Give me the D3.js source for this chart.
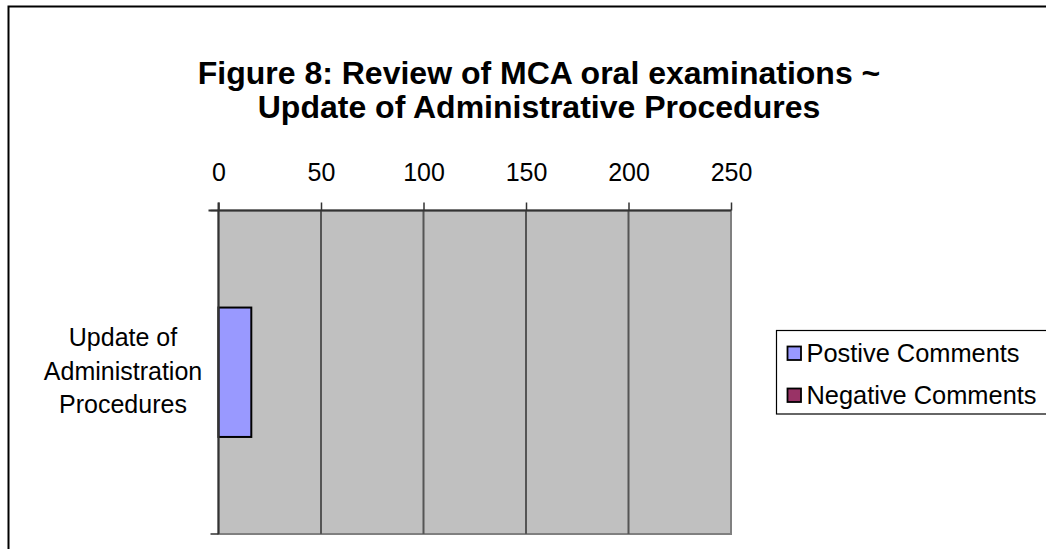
<!DOCTYPE html>
<html>
<head>
<meta charset="utf-8">
<script src="https://cdn.jsdelivr.net/npm/d3@7"></script>
<style>
  body { margin: 0; background: #fff; }
  svg text { font-family: Arial, "Liberation Sans", sans-serif; }
</style>
</head>
<body>
<div id="chart"></div>
<script>
// chart values
var titleLines = ["Figure 8: Review of MCA oral examinations ~", "Update of Administrative Procedures"];
var categories = ["Update of Administration Procedures"];
var categoryLines = ["Update of", "Administration", "Procedures"];
var seriesNames = ["Postive Comments", "Negative Comments"];
var seriesColors = ["#9999FF", "#993366"];
var positiveValues = [16];
var negativeValues = [0];
var xTicks = [0, 50, 100, 150, 200, 250];

var W = 1046, H = 549;
var plot = {left: 218.5, right: 731, top: 210.5, bottom: 534};

var svg = d3.select("#chart").append("svg")
    .attr("width", W).attr("height", H);

// outer frame (runs off the right and bottom edge like the picture)
svg.append("rect")
    .attr("x", 8.5).attr("y", 6.5)
    .attr("width", W + 20).attr("height", H + 20)
    .attr("fill", "#fff").attr("stroke", "#000").attr("stroke-width", 2);

// title
svg.append("text")
    .attr("text-anchor", "middle")
    .style("font-size", "32px").style("font-weight", "bold")
    .selectAll("tspan").data(titleLines).join("tspan")
      .attr("x", 539).attr("y", (d, i) => 84 + i * 34)
      .text(d => d);

var x = d3.scaleLinear().domain([0, 250]).range([plot.left, plot.right]);
var y = d3.scaleBand().domain(categories).range([plot.top, plot.bottom])
    .paddingInner(0.6).paddingOuter(0.3);

// plot area
svg.append("rect")
    .attr("x", plot.left).attr("y", plot.top)
    .attr("width", plot.right - plot.left).attr("height", plot.bottom - plot.top)
    .attr("fill", "#C0C0C0").attr("stroke", "#808080").attr("stroke-width", 2);

// gridlines
svg.append("g").selectAll("line").data(xTicks.slice(1, -1)).join("line")
    .attr("x1", d => x(d)).attr("x2", d => x(d))
    .attr("y1", plot.top).attr("y2", plot.bottom)
    .attr("stroke", "#555").attr("stroke-width", 2);

// bars (overlapping series)
var bars = [
  {name: seriesNames[0], value: positiveValues[0], color: seriesColors[0]},
  {name: seriesNames[1], value: negativeValues[0], color: seriesColors[1]}
];
svg.append("g").selectAll("rect").data(bars.filter(d => d.value > 0)).join("rect")
    .attr("x", x(0)).attr("y", y(categories[0]))
    .attr("width", d => x(d.value) - x(0)).attr("height", y.bandwidth())
    .attr("fill", d => d.color).attr("stroke", "#000").attr("stroke-width", 2);

// top value axis
var xAxis = svg.append("g")
    .attr("transform", "translate(0," + plot.top + ")")
    .call(d3.axisTop(x).tickValues(xTicks).tickSize(8).tickPadding(22));
xAxis.select(".domain").attr("stroke", "#333").attr("stroke-width", 2)
    .attr("d", "M" + (plot.left - 10) + ",0H" + plot.right);
xAxis.selectAll(".tick line").attr("stroke", "#333").attr("stroke-width", 1.5);
xAxis.selectAll(".tick text")
    .style("font-size", "25px").attr("fill", "#000")
    .style("font-family", "Arial, 'Liberation Sans', sans-serif");

// left category axis
var yEdges = [plot.top, plot.bottom];
svg.append("line")
    .attr("x1", plot.left).attr("x2", plot.left)
    .attr("y1", plot.top - 8).attr("y2", plot.bottom)
    .attr("stroke", "#333").attr("stroke-width", 2);
svg.append("g").selectAll("line").data(yEdges).join("line")
    .attr("x1", plot.left - 8).attr("x2", plot.left)
    .attr("y1", d => d).attr("y2", d => d)
    .attr("stroke", "#333").attr("stroke-width", 1.5);

var cy = y(categories[0]) + y.bandwidth() / 2;
svg.append("text")
    .attr("text-anchor", "middle")
    .style("font-size", "25px")
    .selectAll("tspan").data(categoryLines).join("tspan")
      .attr("x", 123)
      .attr("y", (d, i) => cy - 26 + i * 33.5)
      .text(d => d);

// legend
var lg = svg.append("g");
lg.append("rect")
    .attr("x", 776.5).attr("y", 330.5)
    .attr("width", 300).attr("height", 83.5)
    .attr("fill", "#fff").attr("stroke", "#000").attr("stroke-width", 1.2);
var items = lg.selectAll("g.item").data(bars).join("g")
    .attr("class", "item")
    .attr("transform", (d, i) => "translate(787.5," + (346.5 + i * 42) + ")");
items.append("rect")
    .attr("width", 13.5).attr("height", 13.5)
    .attr("fill", d => d.color).attr("stroke", "#000").attr("stroke-width", 1.8);
items.append("text")
    .attr("x", 19).attr("y", 15.5)
    .style("font-size", "25.4px")
    .text(d => d.name);
</script>
</body>
</html>
